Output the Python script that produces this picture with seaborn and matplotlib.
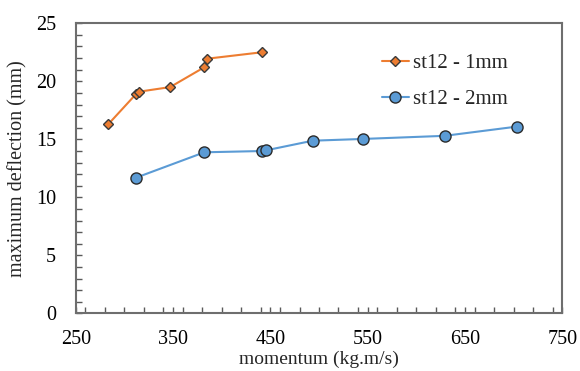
import matplotlib
matplotlib.use('Agg')
import matplotlib.pyplot as plt
import seaborn as sns
from matplotlib.ticker import MultipleLocator

# data
mom_1mm = [283.5, 312, 314.7, 347, 381.9, 385.3, 441]
defl_1mm = [16.3, 18.9, 19.1, 19.5, 21.2, 21.95, 22.5]
mom_2mm = [312.3, 382.2, 441.5, 445.6, 493.6, 544.9, 629.2, 703.8]
defl_2mm = [11.7, 13.88, 13.99, 14.05, 14.88, 15.03, 15.3, 16.1]
x_ticks = [250, 350, 450, 550, 650, 750]

sns.set_theme(style='white')
plt.rcParams['font.family'] = ['Liberation Serif', 'DejaVu Serif']

fig = plt.figure(figsize=(5.8, 3.71), dpi=100)
ax = fig.add_axes([0.1305, 0.1555, 0.839, 0.7817])

sns.lineplot(x=mom_1mm, y=defl_1mm, ax=ax, color='#ED7D31', marker='D', markersize=5.5,
             markeredgecolor='#3a3a3a', markeredgewidth=1, linewidth=1.5,
             estimator=None, sort=False, label='st12 - 1mm')
sns.lineplot(x=mom_2mm, y=defl_2mm, ax=ax, color='#5B9BD5', marker='o', markersize=8,
             markeredgecolor='#2b2b2b', markeredgewidth=1, linewidth=1.5,
             estimator=None, sort=False, label='st12 - 2mm')

ax.set_xlim(250, 750)
ax.set_ylim(0, 25)
ax.set_xticks(x_ticks)
ax.xaxis.set_minor_locator(MultipleLocator(20))
ax.yaxis.set_major_locator(MultipleLocator(5))
ax.yaxis.set_minor_locator(MultipleLocator(1))
ax.tick_params(which='both', direction='in', length=4, width=1, color='#595959',
               bottom=True, left=True, top=False, right=False)
ax.tick_params(axis='x', which='major', labelsize=14.5, pad=12, labelcolor='black')
ax.tick_params(axis='y', which='major', labelsize=14.5, pad=14, labelcolor='black')

for s in ax.spines.values():
    s.set_color('#6e6e6e')
    s.set_linewidth(1.5)

ax.set_xlabel('momentum (kg.m/s)', fontsize=14, labelpad=1)
ax.set_ylabel('maximum deflection (mm)', fontsize=14.5, labelpad=6)

ax.legend(loc='upper left', bbox_to_anchor=(0.59, 0.96), frameon=False, fontsize=15,
          handlelength=1.3, handletextpad=0.2, labelspacing=0.8)

fig.savefig('out.png', dpi=100)
